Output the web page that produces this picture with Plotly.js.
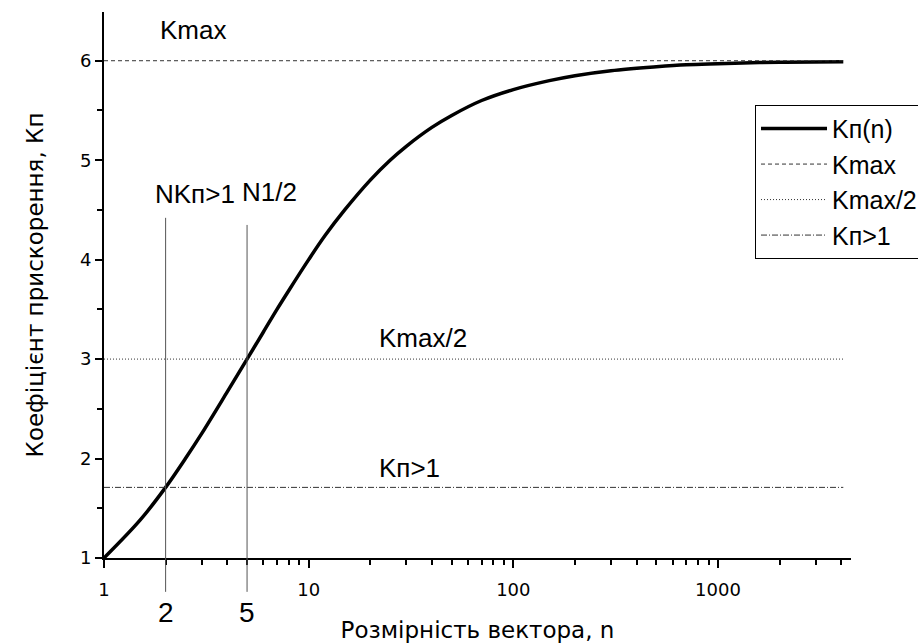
<!DOCTYPE html>
<html>
<head>
<meta charset="utf-8">
<script src="https://cdn.plot.ly/plotly-3.0.1.min.js"></script>
<style>html,body{margin:0;padding:0;background:#fff;}#chart{width:918px;height:643px;}</style>
</head>
<body>
<div id="chart"></div>
<script>
// Vector size n and speed-up coefficient Kп
const vectorSize = [1, 1.5, 2, 2.5, 3, 4, 5, 6, 7, 8, 10, 12, 15, 20, 25, 30, 40, 50, 70, 100, 150, 200, 300, 500, 700, 1000, 2000, 4096];
const speedup    = [1, 1.38, 1.71, 2.0, 2.25, 2.67, 3.0, 3.27, 3.5, 3.69, 4.0, 4.24, 4.5, 4.8, 5.0, 5.14, 5.33, 5.45, 5.6, 5.71, 5.8, 5.85, 5.9, 5.94, 5.96, 5.97, 5.985, 5.99];
// Reference levels
const levelNames  = ["Kmax", "Kmax/2", "Kп>1"];
const levelValues = [6, 3, 1.71];
const levelSpan   = [1, 4096];
// Marked vector sizes
const markerN      = [2, 5];
const markerLabels = ["NKп>1", "N1/2"];
// Axis ticks
const xTickVals  = [1, 10, 100, 1000];
const xTickText  = ["1", "10", "100", "1000"];
const yTickVals  = [1, 2, 3, 4, 5, 6];

const ARIAL = "Liberation Sans, Arial, sans-serif";
const WIDE  = "DejaVu Sans, Liberation Sans, sans-serif";
const dashes = ["4px,3px", "1px,2px", "6px,2px,1px,2px"];

const traces = [{
  x: vectorSize, y: speedup, type: "scatter", mode: "lines",
  name: "Kп(n)", line: {color: "#000", width: 3.5, shape: "spline"}
}];
levelNames.forEach((nm, i) => {
  traces.push({
    x: levelSpan, y: [levelValues[i], levelValues[i]], type: "scatter", mode: "lines",
    name: nm, line: {color: "#333", width: 1, dash: dashes[i]}
  });
});

const shapes = markerN.map((n, i) => ({
  type: "line", xref: "x", yref: "paper",
  x0: n, x1: n, y0: -0.062, y1: i === 0 ? 0.623 : 0.61,
  line: {color: "#555", width: 1}
}));

const L = Math.log10;
const annFont = {size: 26, family: ARIAL};
const annotations = [
  {x: L(1.84), y: 6.31, text: "Kmax", xanchor: "left", yanchor: "middle", showarrow: false, font: annFont},
  {x: L(1.735), y: 4.66, text: markerLabels[0], xanchor: "left", yanchor: "middle", showarrow: false, font: annFont},
  {x: L(4.62), y: 4.68, text: markerLabels[1], xanchor: "left", yanchor: "middle", showarrow: false, font: annFont},
  {x: L(21.6), y: 3.21, text: "Kmax/2", xanchor: "left", yanchor: "middle", showarrow: false, font: annFont},
  {x: L(21.6), y: 1.90, text: "Kп>1", xanchor: "left", yanchor: "middle", showarrow: false, font: annFont},
  {x: L(markerN[0]), y: -0.1, yref: "paper", text: String(markerN[0]), xanchor: "center", yanchor: "middle", showarrow: false, font: {size: 28, family: ARIAL}},
  {x: L(markerN[1]), y: -0.1, yref: "paper", text: String(markerN[1]), xanchor: "center", yanchor: "middle", showarrow: false, font: {size: 28, family: ARIAL}}
];

const layout = {
  width: 918, height: 643,
  margin: {l: 104, r: 67, t: 12, b: 85, autoexpand: false},
  paper_bgcolor: "#fff", plot_bgcolor: "#fff",
  font: {family: ARIAL, color: "#000", size: 18},
  showlegend: true,
  legend: {
    x: 0.8715, y: 0.83, xanchor: "left", yanchor: "top",
    bgcolor: "#fff", bordercolor: "#000", borderwidth: 1,
    font: {size: 25, family: ARIAL}, tracegroupgap: 0, itemwidth: 66
  },
  xaxis: {
    type: "log", range: [0, 3.65],
    tickvals: xTickVals, ticktext: xTickText,
    ticks: "outside", ticklen: 8, tickwidth: 2, tickcolor: "#000",
    showline: true, linecolor: "#000", linewidth: 2,
    showgrid: false, zeroline: false, ticklabelstandoff: 6,
    tickfont: {size: 18, family: WIDE},
    minor: {ticks: "outside", ticklen: 5, tickwidth: 2, tickcolor: "#000", dtick: "D1", showgrid: false},
    title: {text: "Розмірність вектора, n", font: {size: 23, family: WIDE}, standoff: 24}
  },
  yaxis: {
    range: [1, 6.49],
    tickvals: yTickVals,
    ticks: "outside", ticklen: 7, tickwidth: 2, tickcolor: "#000",
    showline: true, linecolor: "#000", linewidth: 2,
    showgrid: false, zeroline: false,
    tickfont: {size: 18, family: WIDE},
    minor: {ticks: "outside", ticklen: 5, tickwidth: 2, tickcolor: "#000", dtick: 0.5, showgrid: false},
    title: {text: "Коефіцієнт прискорення, Кп", font: {size: 23, family: WIDE}, standoff: 30}
  },
  shapes: shapes,
  annotations: annotations
};

Plotly.newPlot("chart", traces, layout, {displayModeBar: false, staticPlot: true});
</script>
</body>
</html>
